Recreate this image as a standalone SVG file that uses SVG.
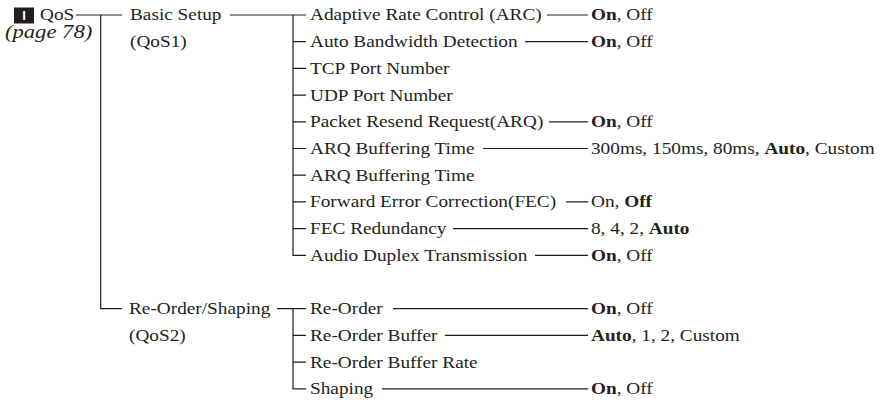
<svg xmlns="http://www.w3.org/2000/svg" width="885" height="404" viewBox="0 0 885 404">
<style>
.t{font-family:"Liberation Serif","Times New Roman",serif;font-size:16.2px;fill:#231f20;transform-box:fill-box;transform-origin:0 0;transform:scaleX(1.19)}
.i{font-style:italic;font-size:19px}
.b{font-weight:bold}
.c{fill:none;stroke:#231f20;stroke-width:1.2}
.mk{fill:#231f20}
.mt{font-family:"Liberation Sans",Arial,sans-serif;font-weight:bold;font-size:13px;fill:#ffffff}
</style>
<rect width="885" height="404" fill="#ffffff"/>
<g id="connectors" class="c">
<path d="M76 15H122M100.7 15V308.7H122"/>
<path d="M230 15H306M293 15V255.3H306M293 41.7H306M293 68.4H306M293 95.1H306M293 121.8H306M293 148.5H306M293 175.2H306M293 201.9H306M293 228.6H306"/>
<path d="M277 308.7H306M293 308.7V388.8H306M293 335.4H306M293 362.1H306"/>
<path d="M547 15H588M525 41.7H588M549 121.8H588M483 148.5H588M566 201.9H588M453 228.6H588M535 255.3H588"/>
<path d="M393 308.7H588M445 335.4H588M382 388.8H588"/>
</g>
<g id="qos">
<rect class="mk" x="14" y="7.5" width="20" height="16"/>
<text class="mt" x="24" y="20.2" text-anchor="middle">I</text>
<text class="t" x="40" y="20">QoS</text>
<text class="t i" x="5" y="38">(page 78)</text>
</g>
<g id="basic-setup">
<text class="t" x="130" y="20.5">Basic Setup</text>
<text class="t" x="130" y="47.2">(QoS1)</text>
</g>
<g id="reorder-shaping">
<text class="t" x="129" y="314.2">Re-Order/Shaping</text>
<text class="t" x="129" y="340.9">(QoS2)</text>
</g>
<g id="arc"><text class="t" x="310" y="20.5">Adaptive Rate Control (ARC)</text></g>
<g id="abd"><text class="t" x="310" y="47.2">Auto Bandwidth Detection</text></g>
<g id="tcp"><text class="t" x="310" y="73.9">TCP Port Number</text></g>
<g id="udp"><text class="t" x="310" y="100.6">UDP Port Number</text></g>
<g id="arq"><text class="t" x="310" y="127.3">Packet Resend Request(ARQ)</text></g>
<g id="arq-time"><text class="t" x="310" y="154">ARQ Buffering Time</text></g>
<g id="arq-time2"><text class="t" x="310" y="180.7">ARQ Buffering Time</text></g>
<g id="fec"><text class="t" x="310" y="207.4">Forward Error Correction(FEC)</text></g>
<g id="fec-red"><text class="t" x="310" y="234.1">FEC Redundancy</text></g>
<g id="audio"><text class="t" x="310" y="260.8">Audio Duplex Transmission</text></g>
<g id="reorder"><text class="t" x="310" y="314.2">Re-Order</text></g>
<g id="reorder-buffer"><text class="t" x="310" y="340.9">Re-Order Buffer</text></g>
<g id="reorder-rate"><text class="t" x="310" y="367.6">Re-Order Buffer Rate</text></g>
<g id="shaping"><text class="t" x="310" y="394.3">Shaping</text></g>
<g id="values">
<text class="t" x="591" y="20.5"><tspan class="b">On</tspan>, Off</text>
<text class="t" x="591" y="47.2"><tspan class="b">On</tspan>, Off</text>
<text class="t" x="591" y="127.3"><tspan class="b">On</tspan>, Off</text>
<text class="t" x="591" y="154">300ms, 150ms, 80ms, <tspan class="b">Auto</tspan>, Custom</text>
<text class="t" x="591" y="207.4">On, <tspan class="b">Off</tspan></text>
<text class="t" x="591" y="234.1">8, 4, 2, <tspan class="b">Auto</tspan></text>
<text class="t" x="591" y="260.8"><tspan class="b">On</tspan>, Off</text>
<text class="t" x="591" y="314.2"><tspan class="b">On</tspan>, Off</text>
<text class="t" x="591" y="340.9"><tspan class="b">Auto</tspan>, 1, 2, Custom</text>
<text class="t" x="591" y="394.3"><tspan class="b">On</tspan>, Off</text>
</g>
</svg>
